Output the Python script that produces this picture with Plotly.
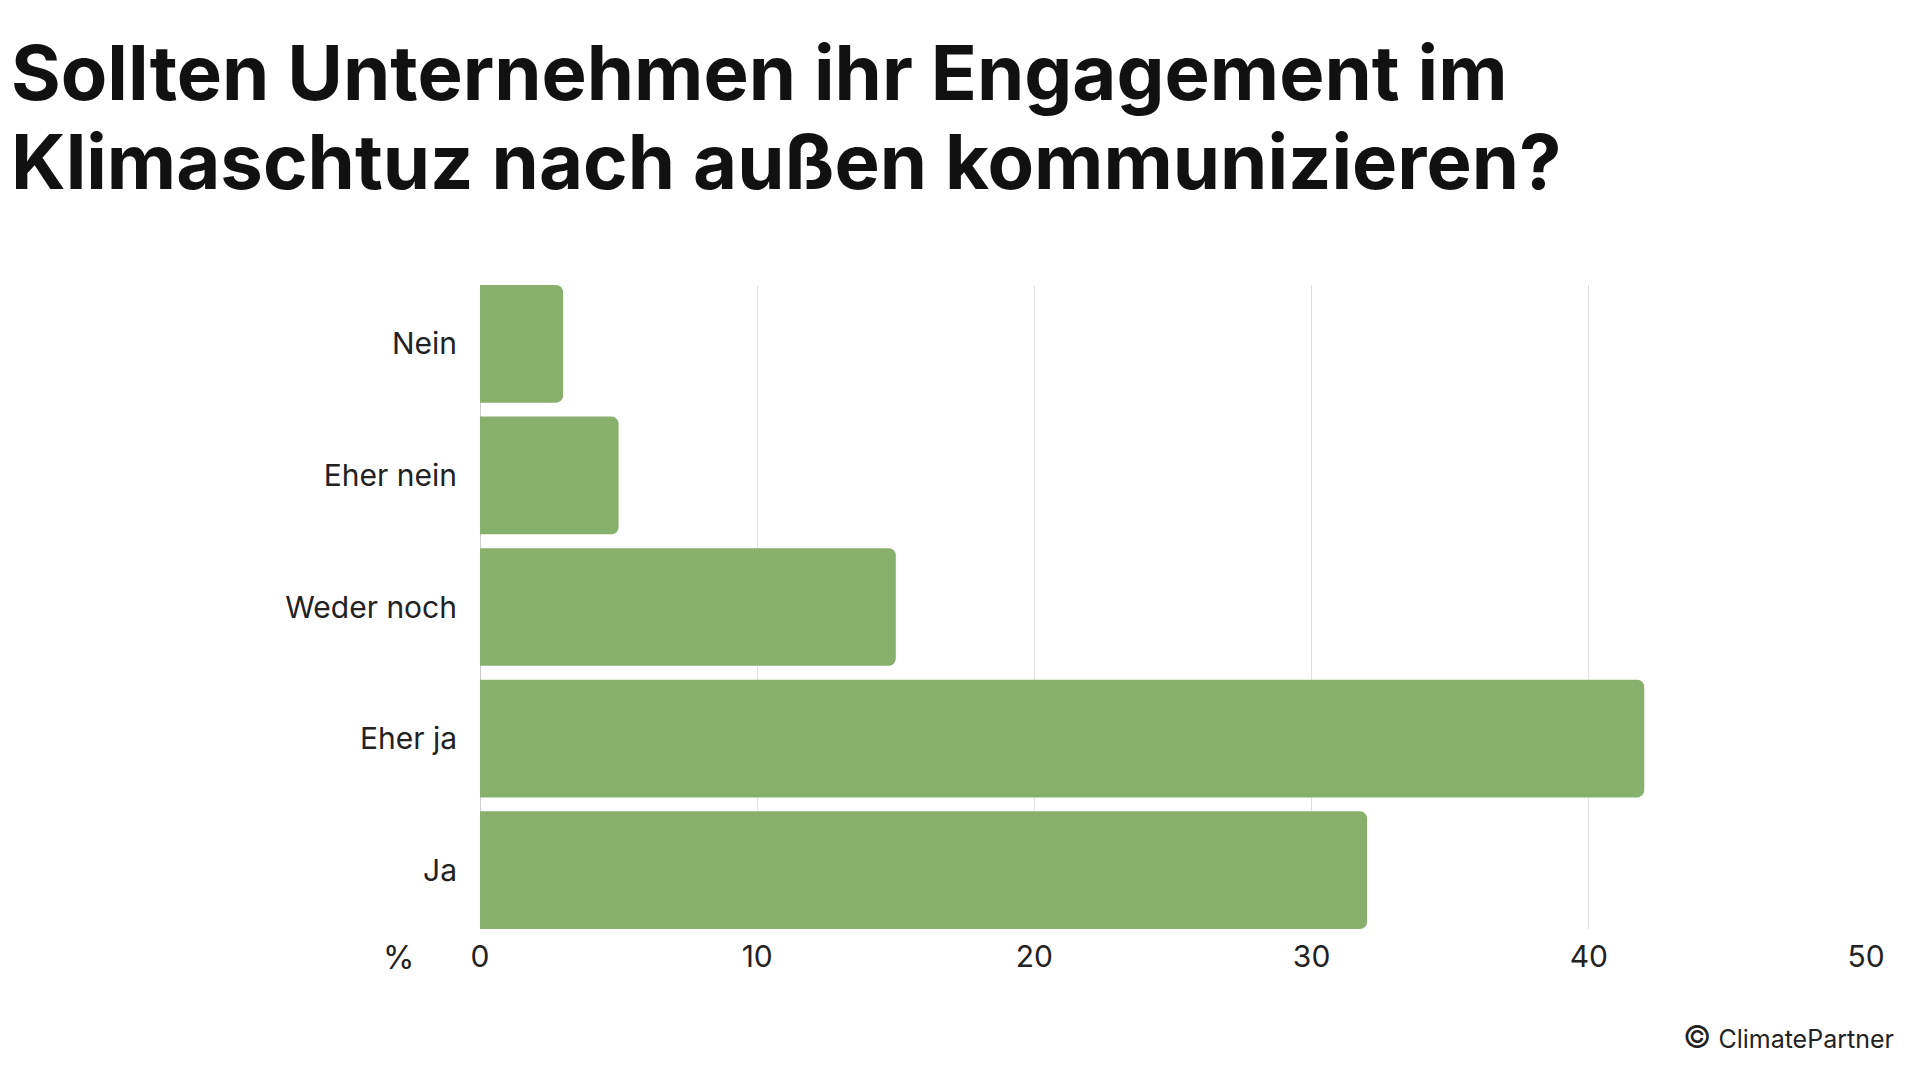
import plotly.graph_objects as go

categories = ["Nein", "Eher nein", "Weder noch", "Eher ja", "Ja"]
values = [3, 5, 15, 42, 32]
x_ticks = [0, 10, 20, 30, 40, 50]
title_lines = ["Sollten Unternehmen ihr Engagement im", "Klimaschtuz nach außen kommunizieren?"]
unit_label = "%"
source_label = "ClimatePartner"

OFF = 8  # default page body margin
W, H = 1920 - 2 * OFF, 1080 - 2 * OFF
# target page-pixel geometry of the plot area
PL, PR, PT, PB = 479.5, 1866.5, 285, 928.7
L, R, T, B = PL - OFF, W - (PR - OFF), PT - OFF, H - (PB - OFF)
PW, PH = W - L - R, H - T - B
GAP = 0.106
BAR = "#86B06C"
TXT = "#222222"

def px_x(p):
    return (p - OFF - L) / PW

def px_y(p):
    return (H - B - (p - OFF)) / PH

fig = go.Figure(go.Bar(
    x=values, y=categories, orientation="h",
    marker=dict(color=BAR, cornerradius=7, line=dict(width=0)),
    hoverinfo="skip",
))

fig.update_layout(
    width=W, height=H,
    margin=dict(l=L, r=R, t=T, b=B, pad=0),
    paper_bgcolor="white", plot_bgcolor="white",
    bargap=GAP, showlegend=False,
    font=dict(family="Inter", color=TXT),
    xaxis=dict(
        range=[0, 50], tickvals=x_ticks, ticktext=[str(v) for v in x_ticks],
        showgrid=True, gridcolor="#e0e0e0", gridwidth=1,
        zeroline=True, zerolinecolor="#cccccc", zerolinewidth=1,
        showline=False, ticks="outside", ticklen=1, tickcolor="rgba(0,0,0,0)",
        tickfont=dict(size=30, family="Inter", color=TXT),
        fixedrange=True,
    ),
    yaxis=dict(
        categoryorder="array", categoryarray=categories,
        range=[4.5 - GAP / 2, -0.5 + GAP / 2],
        showgrid=False, zeroline=False, showline=False,
        ticks="outside", ticklen=16, tickcolor="rgba(0,0,0,0)",
        tickfont=dict(size=30, family="Inter", color=TXT),
        fixedrange=True,
    ),
)

anns = []
anns.append(dict(text=title_lines[0], x=px_x(OFF), y=px_y(72), xanchor="left", yanchor="middle"))
anns.append(dict(text=title_lines[1], x=px_x(OFF), y=px_y(161), xanchor="left", yanchor="middle"))
for a in anns:
    a.update(xref="paper", yref="paper", showarrow=False,
             font=dict(family="Inter", size=76, color="#111111", weight=700))
anns.append(dict(text=unit_label, x=px_x(398), y=px_y(957), xref="paper", yref="paper",
                 xanchor="center", yanchor="middle", showarrow=False,
                 font=dict(family="Inter", size=32, color=TXT)))
anns.append(dict(text="<span style='font-size:31px'>©</span> " + source_label,
                 x=px_x(1897), y=px_y(1036), xref="paper", yref="paper",
                 xanchor="right", yanchor="middle", showarrow=False,
                 font=dict(family="Inter", size=25, color=TXT)))
fig.update_layout(annotations=anns)

fig.write_html("out.html")
